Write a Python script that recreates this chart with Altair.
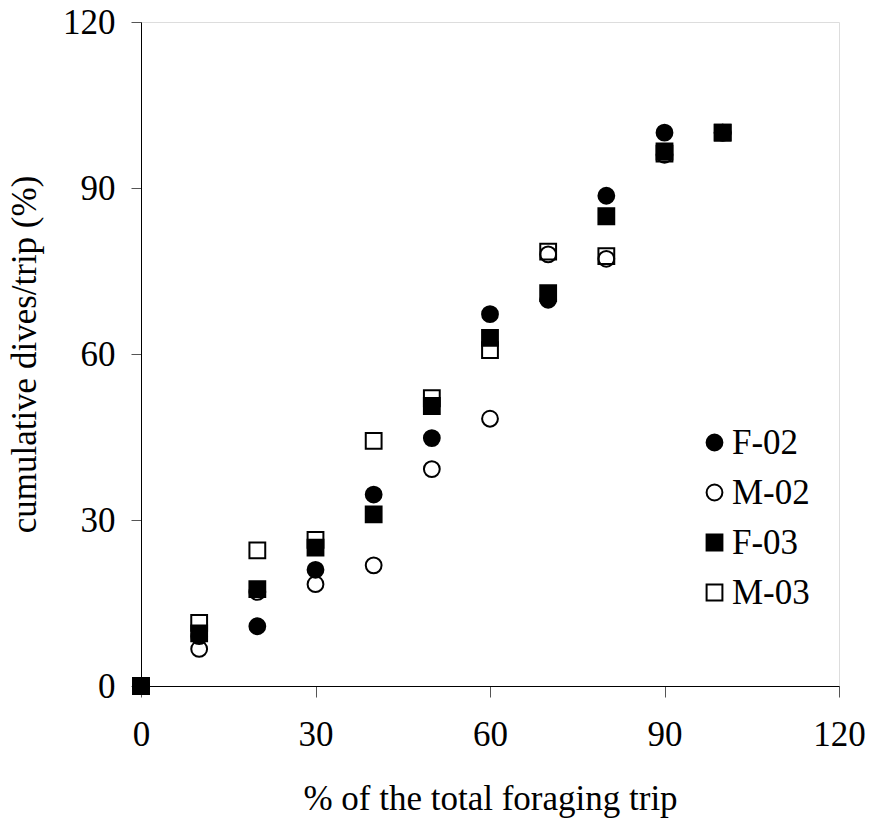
import altair as alt
import pandas as pd

x_vals = [0, 10, 20, 30, 40, 50, 60, 70, 80, 90, 100]
f02 = [0, 9.0, 10.8, 21.0, 34.6, 44.8, 67.2, 69.8, 88.6, 100.0, 100]
m02 = [0, 6.7, 17.0, 18.4, 21.8, 39.2, 48.3, 78.0, 77.2, 96.0, 100]
f03 = [0, 9.5, 17.5, 25.0, 31.0, 50.6, 62.9, 71.0, 84.9, 96.6, 100]
m03 = [0, 11.4, 24.5, 26.4, 44.3, 52.0, 60.7, 78.5, 77.7, 96.2, 100]

series = ["F-02", "M-02", "F-03", "M-03"]
values = [f02, m02, f03, m03]
shapes = ["circle", "circle", "square", "square"]
fills = ["black", "transparent", "black", "transparent"]
strokes = ["black", "black", "black", "black"]

rows = []
for i, (s, vals) in enumerate(zip(series, values)):
    for xv, yv in zip(x_vals, vals):
        rows.append({"x": xv, "y": yv, "series": s, "order": i})
df = pd.DataFrame(rows)

FONT = "Liberation Serif"
FS = 35

chart = alt.Chart(df).mark_point(filled=False, opacity=1, strokeWidth=2, size=250).encode(
    x=alt.X("x:Q", scale=alt.Scale(domain=[0, 120], nice=False),
            axis=alt.Axis(values=[0, 30, 60, 90, 120], title="% of the total foraging trip",
                          grid=False, domainColor="black", tickColor="#555555", tickSize=11,
                          labelFontSize=FS, labelFont=FONT, labelColor="black", labelPadding=20,
                          titleFontSize=FS, titleFont=FONT, titleColor="black", titleFontWeight="normal",
                          titleY=123, titleBaseline="alphabetic", labelFlush=False)),
    y=alt.Y("y:Q", scale=alt.Scale(domain=[0, 120], nice=False),
            axis=alt.Axis(values=[0, 30, 60, 90, 120], title="cumulative dives/trip (%)",
                          grid=False, domainColor="black", tickColor="#555555", tickSize=10,
                          labelFontSize=FS, labelFont=FONT, labelColor="black", labelPadding=16,
                          titleFontSize=FS, titleFont=FONT, titleColor="black", titleFontWeight="normal",
                          titleX=-106, titleY=332, titleBaseline="alphabetic", titleAngle=-90,
                          labelFlush=False)),
    shape=alt.Shape("series:N", scale=alt.Scale(domain=series, range=shapes), sort=series,
                    legend=alt.Legend(title=None)),
    fill=alt.Fill("series:N", scale=alt.Scale(domain=series, range=fills), sort=series,
                  legend=alt.Legend(title=None)),
    stroke=alt.Stroke("series:N", scale=alt.Scale(domain=series, range=strokes), sort=series,
                      legend=alt.Legend(title=None)),
    order=alt.Order("order:Q"),
).properties(
    width=698, height=664,
    padding={"left": 141, "top": 22, "right": 32, "bottom": 136},
    autosize=alt.AutoSizeParams(type="none"),
).configure_view(stroke=None).configure(font=FONT, background="white").configure_legend(
    orient="none", legendX=556, legendY=403,
    labelFontSize=FS, labelFont=FONT, labelColor="black",
    symbolSize=250, symbolStrokeWidth=2, symbolStrokeColor="black",
    rowPadding=14, labelOffset=0, padding=0,
)

chart.save("out.html", embed_options={"renderer": "svg", "actions": False})
